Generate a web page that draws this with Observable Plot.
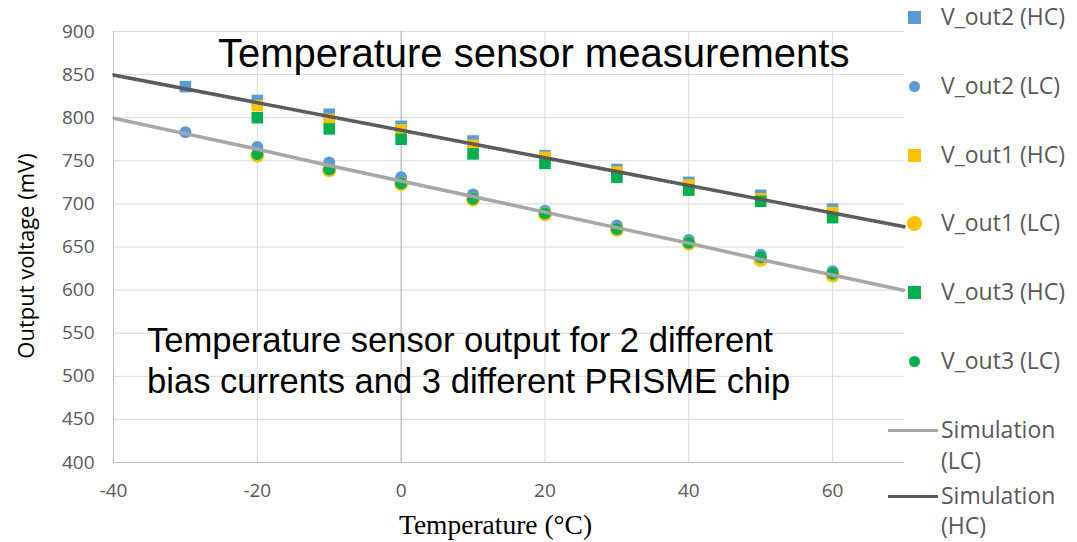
<!DOCTYPE html>
<html>
<head>
<meta charset="utf-8">
<script src="https://cdn.jsdelivr.net/npm/d3@7"></script>
<script src="https://cdn.jsdelivr.net/npm/@observablehq/plot@0.6"></script>
<style>
  html, body { margin: 0; padding: 0; background: #fff; }
  #wrap { position: relative; width: 1077px; height: 542px; overflow: hidden; font-family: "Open Sans", sans-serif; }
  #wrap svg { position: absolute; left: 0; top: 0; }
  .ov { position: absolute; white-space: nowrap; }
  .title { font-family: "Liberation Sans", Arial, sans-serif; font-size: 40px; color: #000; line-height: 48px; }
  .note { font-family: "Liberation Sans", Arial, sans-serif; font-size: 34.6px; color: #000; line-height: 41px; }
  .leg { font-family: "Open Sans", sans-serif; font-size: 23px; color: #595959; line-height: 28px; }
  .ylab { font-family: "Open Sans", sans-serif; font-size: 22px; color: #000; line-height: 28px;
          transform: translate(-50%, -50%) rotate(-90deg); }
  .mk { position: absolute; }
</style>
</head>
<body>
<div id="wrap"></div>
<script>
// ---- data ----
const tempsAll = [-30, -20, -10, 0, 10, 20, 30, 40, 50, 60];
const tempsChip = [-20, -10, 0, 10, 20, 30, 40, 50, 60];
const vout2HC = [836, 820, 804, 790, 773, 756, 740, 725, 710, 694];
const vout2LC = [783, 766, 748, 731, 711, 692, 675, 658, 641, 622];
const vout1HC = [814, 798, 786, 768, 754, 737, 722, 706, 690];
const vout1LC = [756, 739, 723, 705, 688, 670, 654, 635, 617];
const vout3HC = [800, 787, 775, 758, 747, 731, 716, 703, 684];
const vout3LC = [758, 740, 724, 706, 689, 671, 655, 638, 619];
const simTemps = [-40, -30, -20, -10, 0, 10, 20, 30, 40, 50, 60, 70];
const simHC = [850, 834, 818, 802, 786, 770, 754, 738, 722, 706, 690, 674];
const simLC = [800, 782, 764, 745, 727, 709, 691, 673, 655, 636, 618, 600];
const yTicks = [400, 450, 500, 550, 600, 650, 700, 750, 800, 850, 900];
const xTicks = [-40, -20, 0, 20, 40, 60];

const seriesNames = ["V_out2 (HC)", "V_out2 (LC)", "V_out1 (HC)", "V_out1 (LC)", "V_out3 (HC)", "V_out3 (LC)"];
const seriesColors = ["#5B9BD5", "#5B9BD5", "#FFC000", "#FFC000", "#00B050", "#00B050"];
const seriesSymbols = ["square", "circle", "square", "circle", "square", "circle"];
const seriesR = [6.5, 6, 6.5, 7, 6.5, 6];
const seriesX = [tempsAll, tempsAll, tempsChip, tempsChip, tempsChip, tempsChip];
const seriesY = [vout2HC, vout2LC, vout1HC, vout1LC, vout3HC, vout3LC];

const simNames = ["Simulation (LC)", "Simulation (HC)"];
const simColors = ["#A6A6A6", "#595959"];
const simValues = [simLC, simHC];

// ---- build tables ----
const pts = [];
seriesNames.forEach((name, i) => {
  seriesX[i].forEach((t, j) => pts.push({series: name, i, t, v: seriesY[i][j]}));
});
const sims = [];
simNames.forEach((name, i) => simTemps.forEach((t, j) => sims.push({series: name, i, t, v: simValues[i][j]})));

const marks = [
  Plot.gridY(yTicks, {stroke: "#d9d9d9", strokeOpacity: 1}),
  Plot.gridX([-20, 20, 40, 60], {stroke: "#d9d9d9", strokeOpacity: 1}),
  Plot.ruleX([-40], {stroke: "#bfbfbf"}),
  Plot.ruleX([0], {stroke: "#a6a6a6"}),
  Plot.ruleY([400], {stroke: "#bfbfbf"}),
  Plot.axisY({ticks: yTicks, tickSize: 0, tickPadding: 19, fontSize: 19, fill: "#595959", label: null}),
  Plot.axisX({ticks: xTicks, tickSize: 0, tickPadding: 21, fontSize: 19, fill: "#595959",
    tickFormat: d => String(d), label: null}),
];
seriesNames.forEach((name, i) => {
  marks.push(Plot.dot(pts.filter(d => d.i === i), {x: "t", y: "v", symbol: () => seriesSymbols[i],
    fill: seriesColors[i], r: seriesR[i]}));
});
simNames.forEach((name, i) => {
  const d = sims.filter(s => s.i === i);
  marks.push(Plot.line(d, {x: "t", y: "v", stroke: simColors[i], strokeWidth: 1.5, strokeDasharray: "1.5,1.5", dy: 1.6}));
  marks.push(Plot.line(d, {x: "t", y: "v", stroke: simColors[i], strokeWidth: 2.6}));
});

const chart = Plot.plot({
  width: 1077, height: 542,
  marginLeft: 113, marginRight: 173, marginTop: 31, marginBottom: 80,
  style: {fontFamily: "'Open Sans', sans-serif", background: "transparent"},
  x: {domain: [-40, 70]},
  y: {domain: [400, 900]},
  symbol: {type: "identity"},
  marks
});

const wrap = document.getElementById("wrap");
wrap.appendChild(chart);

function addDiv(cls, text, left, top, extra) {
  const el = document.createElement("div");
  el.className = "ov " + cls;
  el.textContent = text;
  el.style.left = left + "px";
  el.style.top = top + "px";
  if (extra) Object.assign(el.style, extra);
  wrap.appendChild(el);
  return el;
}
// y axis label
addDiv("ylab", "Output voltage (mV)", 25, 256);
// x axis label
addDiv("", "Temperature (°C)", 399, 510, {fontFamily: "'Liberation Serif', 'Times New Roman', serif", fontSize: "27.5px", color: "#000", lineHeight: "30px"});
// title
addDiv("title", "Temperature sensor measurements", 218, 29);
// annotation
const note = addDiv("note", "", 147, 320);
note.innerHTML = "Temperature sensor output for 2 different<br>bias currents and 3 different PRISME chip";

// legend
const legY = [17, 86, 155, 223, 292, 361];
seriesNames.forEach((name, i) => {
  const sz = seriesSymbols[i] === "square" ? 13 : (i === 3 ? 15 : 11);
  const m = document.createElement("div");
  m.className = "mk";
  m.style.width = sz + "px"; m.style.height = sz + "px";
  m.style.background = seriesColors[i];
  m.style.left = (914 - sz / 2) + "px";
  m.style.top = (legY[i] - sz / 2) + "px";
  if (seriesSymbols[i] === "circle") m.style.borderRadius = "50%";
  wrap.appendChild(m);
  addDiv("leg", name, 941, legY[i] - 15);
});
const simLeg = [[430, 461], [496, 526]];
simNames.forEach((name, i) => {
  const l = document.createElement("div");
  l.className = "mk";
  l.style.left = "888px"; l.style.width = "50px"; l.style.height = "3px";
  l.style.top = (simLeg[i][0] - 1.5) + "px";
  l.style.background = simColors[i];
  wrap.appendChild(l);
  const parts = name.split(" ");
  addDiv("leg", parts[0], 941, simLeg[i][0] - 15);
  addDiv("leg", parts[1], 941, simLeg[i][1] - 15);
});
</script>
</body>
</html>
